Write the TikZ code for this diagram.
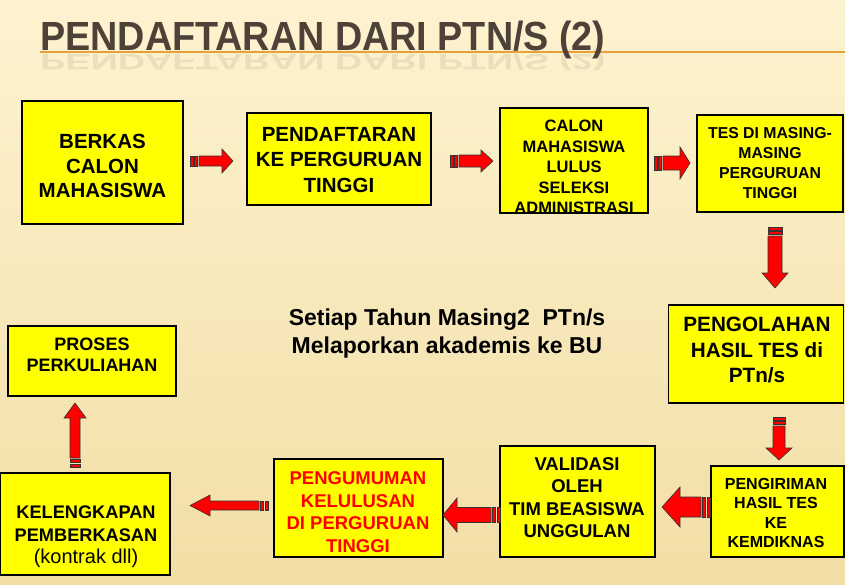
\documentclass[tikz,border=0pt]{standalone}
\usepackage{fontspec}
\setmainfont{Liberation Sans}
\definecolor{bgtop}{RGB}{253,243,208}
\definecolor{bgbot}{RGB}{242,222,166}
\definecolor{titlec}{RGB}{78,66,56}
\definecolor{lineor}{RGB}{232,160,60}
\definecolor{boxy}{RGB}{255,255,0}
\definecolor{redt}{RGB}{255,0,0}
\newcommand\fsz[2]{\fontsize{#1}{#2}\selectfont\bfseries}
\newcommand\blockarr[7]{%
\begin{scope}[shift={(#1,#2)},rotate=#3]
 \draw[arrline] (0,-#5) rectangle (3,#5);
 \draw[arrline] (4.5,-#5) rectangle (7.5,#5);
 \draw[arrline] (9,-#5) -- ({#4-#7},-#5) -- ({#4-#7},-#6) -- (#4,0) -- ({#4-#7},#6) -- ({#4-#7},#5) -- (9,#5) -- cycle;
\end{scope}}
\begin{document}
\begin{tikzpicture}[x=1pt,y=-1pt,
  box/.style={draw=black,line width=1.4pt,fill=boxy,inner sep=0pt},
  txt/.style={align=center,inner sep=0pt,text=black},
  arrline/.style={draw=black!80,line width=0.6pt,fill=red,line join=miter}]
\useasboundingbox (0,0) rectangle (845,584);
\shade[top color=bgtop,bottom color=bgbot] (0,0) rectangle (845,584);
% title
\draw[lineor,line width=1.5pt] (40,52) -- (845,52);
\node[anchor=base west,inner sep=0pt,text=titlec,font=\fontsize{37}{40}\selectfont\bfseries] (title) at (40,50) {\scalebox{1.02}[1.1]{PENDAFTARAN DARI PTN/S (2)}};
\node[anchor=base west,inner sep=0pt,text=titlec,opacity=0.1,font=\fontsize{37}{40}\selectfont\bfseries] (titlerefl) at (40,54) {\scalebox{1.02}[-0.6]{PENDAFTARAN DARI PTN/S (2)}};
% boxes
\node[box,minimum width=161pt,minimum height=123pt] (b1) at (102.5,162.5) {};
\node[txt,font=\fsz{20.5}{24.5}] (t1) at (102.5,166) {BERKAS\\CALON\\MAHASISWA};
\node[box,minimum width=184pt,minimum height=92pt] (b2) at (339,159) {};
\node[txt,font=\fsz{20.5}{25.5}] (t2) at (339,160) {PENDAFTARAN\\KE PERGURUAN\\TINGGI};
\node[box,minimum width=148pt,minimum height=105pt] (b3) at (574,160.5) {};
\begin{scope}
\clip (b3.north west) rectangle (b3.south east);
\node[txt,font=\fsz{16.5}{20.6}] (t3) at (574,167) {CALON\\MAHASISWA\\LULUS\\SELEKSI\\ADMINISTRASI};
\end{scope}
\draw[line width=1.4pt] (b3.north west) rectangle (b3.south east);
\node[box,minimum width=146pt,minimum height=97pt] (b4) at (770,163.5) {};
\node[txt,font=\fsz{15.8}{20}] (t4) at (770,163) {TES DI MASING-\\MASING\\PERGURUAN\\TINGGI};
\node[box,minimum width=175pt,minimum height=98pt] (b5) at (756,354) {};
\node[txt,font=\fsz{20.7}{25.5}] (t5) at (757,350) {PENGOLAHAN\\HASIL TES di\\PTn/s};
\node[box,minimum width=133pt,minimum height=91pt] (b6) at (777.5,511.5) {};
\node[txt,font=\fsz{16}{19.5}] (t6) at (776,513) {PENGIRIMAN\\HASIL TES\\KE\\KEMDIKNAS};
\node[box,minimum width=155pt,minimum height=111pt] (b7) at (577.5,501.5) {};
\node[txt,font=\fsz{18.5}{22.3}] (t7) at (577,497.5) {VALIDASI\\OLEH\\TIM BEASISWA\\UNGGULAN};
\node[box,minimum width=169pt,minimum height=98pt] (b8) at (358.5,508) {};
\node[txt,font=\fsz{18.5}{22.7},text=redt] (t8) at (358,512) {PENGUMUMAN\\KELULUSAN\\DI PERGURUAN\\TINGGI};
\node[box,minimum width=170pt,minimum height=102pt] (b9) at (85,524) {};
\node[txt,font=\fsz{18.2}{22.5}] (t9) at (86,537) {KELENGKAPAN\\PEMBERKASAN\\{\mdseries\fontsize{20}{22.5}\selectfont(kontrak dll)}};
\node[box,minimum width=168pt,minimum height=70pt] (b10) at (92,361) {};
\node[txt,font=\fsz{18}{21.5}] (t10) at (92,355) {PROSES\\PERKULIAHAN};
% centre note
\node[txt,font=\fsz{23}{28}] (note) at (447,334) {Setiap Tahun Masing2~~PTn/s\\Melaporkan akademis ke BU};
% block arrows
\blockarr{190}{161}{0}{43}{5}{12}{11}
\blockarr{450}{161}{0}{43}{6}{11}{12}
\blockarr{654}{163}{0}{36}{7}{16}{10}
\blockarr{775}{227}{-90}{61}{7}{13}{15}
\blockarr{779}{417}{-90}{43}{6}{13}{12}
\blockarr{710}{507}{180}{48}{10}{20}{18}
\blockarr{500}{515}{180}{57}{7.5}{17}{14}
\blockarr{268}{505.5}{180}{78}{4.5}{10.5}{20}
\blockarr{75}{467}{90}{64}{5}{11}{15}
\end{tikzpicture}
\end{document}
